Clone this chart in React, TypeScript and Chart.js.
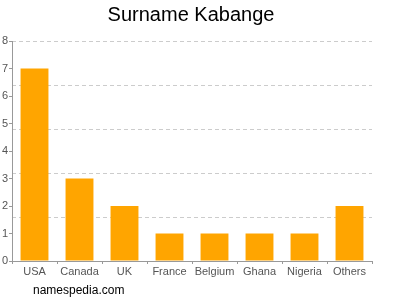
import React, { useEffect, useRef } from "react";
import { Chart, registerables } from "chart.js";

Chart.register(...registerables);

const categories = ["USA", "Canada", "UK", "France", "Belgium", "Ghana", "Nigeria", "Others"];
const counts = [7, 3, 2, 1, 1, 1, 1, 2];
const yTickValues = [0, 1, 2, 3, 4, 5, 6, 7, 8];
const gridValues = [1.6, 3.2, 4.8, 6.4, 8];
const titleText = "Surname Kabange";
const footerText = "namespedia.com";

const FONT = "'Liberation Sans', Arial, Helvetica, sans-serif";

export default function App() {
  const ref = useRef<HTMLCanvasElement | null>(null);

  useEffect(() => {
    if (!ref.current) return;
    const textPlugin = {
      id: "texts",
      afterDraw(chart: any) {
        const ctx = chart.ctx;
        ctx.save();
        ctx.fillStyle = "#000";
        ctx.textBaseline = "middle";
        ctx.textAlign = "center";
        ctx.font = `20px ${FONT}`;
        ctx.fillText(titleText, 191, 15);
        ctx.textAlign = "left";
        ctx.font = `12px ${FONT}`;
        ctx.fillText(footerText, 33, 291);
        ctx.restore();
      },
    };
    const chart = new Chart(ref.current, {
      type: "bar",
      data: {
        labels: categories,
        datasets: [
          {
            data: counts,
            backgroundColor: "#FFA500",
            borderWidth: 0,
            categoryPercentage: 1,
            barPercentage: 0.62,
          },
        ],
      },
      options: {
        animation: false,
        responsive: false,
        maintainAspectRatio: false,
        layout: { padding: { top: 41, right: 28, left: 0, bottom: 0 } },
        plugins: {
          legend: { display: false },
          title: { display: false },
          tooltip: { enabled: false },
        },
        scales: {
          x: {
            offset: true,
            grid: {
              drawOnChartArea: false,
              drawTicks: true,
              tickLength: 3,
              color: "#999",
            },
            border: { display: true, color: "#999" },
            ticks: {
              color: "#555",
              font: { family: FONT, size: 11 },
              padding: 1,
              maxRotation: 0,
              autoSkip: false,
            },
            afterFit(scale: any) {
              scale.height = 39;
            },
          },
          y: {
            position: "left",
            min: 0,
            max: 8,
            afterBuildTicks(scale: any) {
              scale.ticks = yTickValues.map((v) => ({ value: v }));
            },
            grid: {
              drawOnChartArea: false,
              drawTicks: true,
              tickLength: 3,
              color: "#999",
            },
            border: { display: true, color: "#999" },
            ticks: {
              color: "#555",
              font: { family: FONT, size: 11 },
              padding: 1,
            },
            afterFit(scale: any) {
              scale.width = 12;
            },
          },
          y2: {
            position: "right",
            min: 0,
            max: 8,
            afterBuildTicks(scale: any) {
              scale.ticks = gridValues.map((v) => ({ value: v }));
            },
            grid: {
              drawOnChartArea: true,
              drawTicks: false,
              color: "#cccccc",
              lineWidth: 1,
            },
            border: { display: false, dash: [4, 3] },
            ticks: { display: false },
            afterFit(scale: any) {
              scale.width = 0;
            },
          },
        },
      },
      plugins: [textPlugin],
    } as any);
    return () => chart.destroy();
  }, []);

  return (
    <div style={{ position: "fixed", left: 0, top: 0, width: 400, height: 300, background: "#fff" }}>
      <canvas ref={ref} width={400} height={300} style={{ width: 400, height: 300 }} />
    </div>
  );
}
